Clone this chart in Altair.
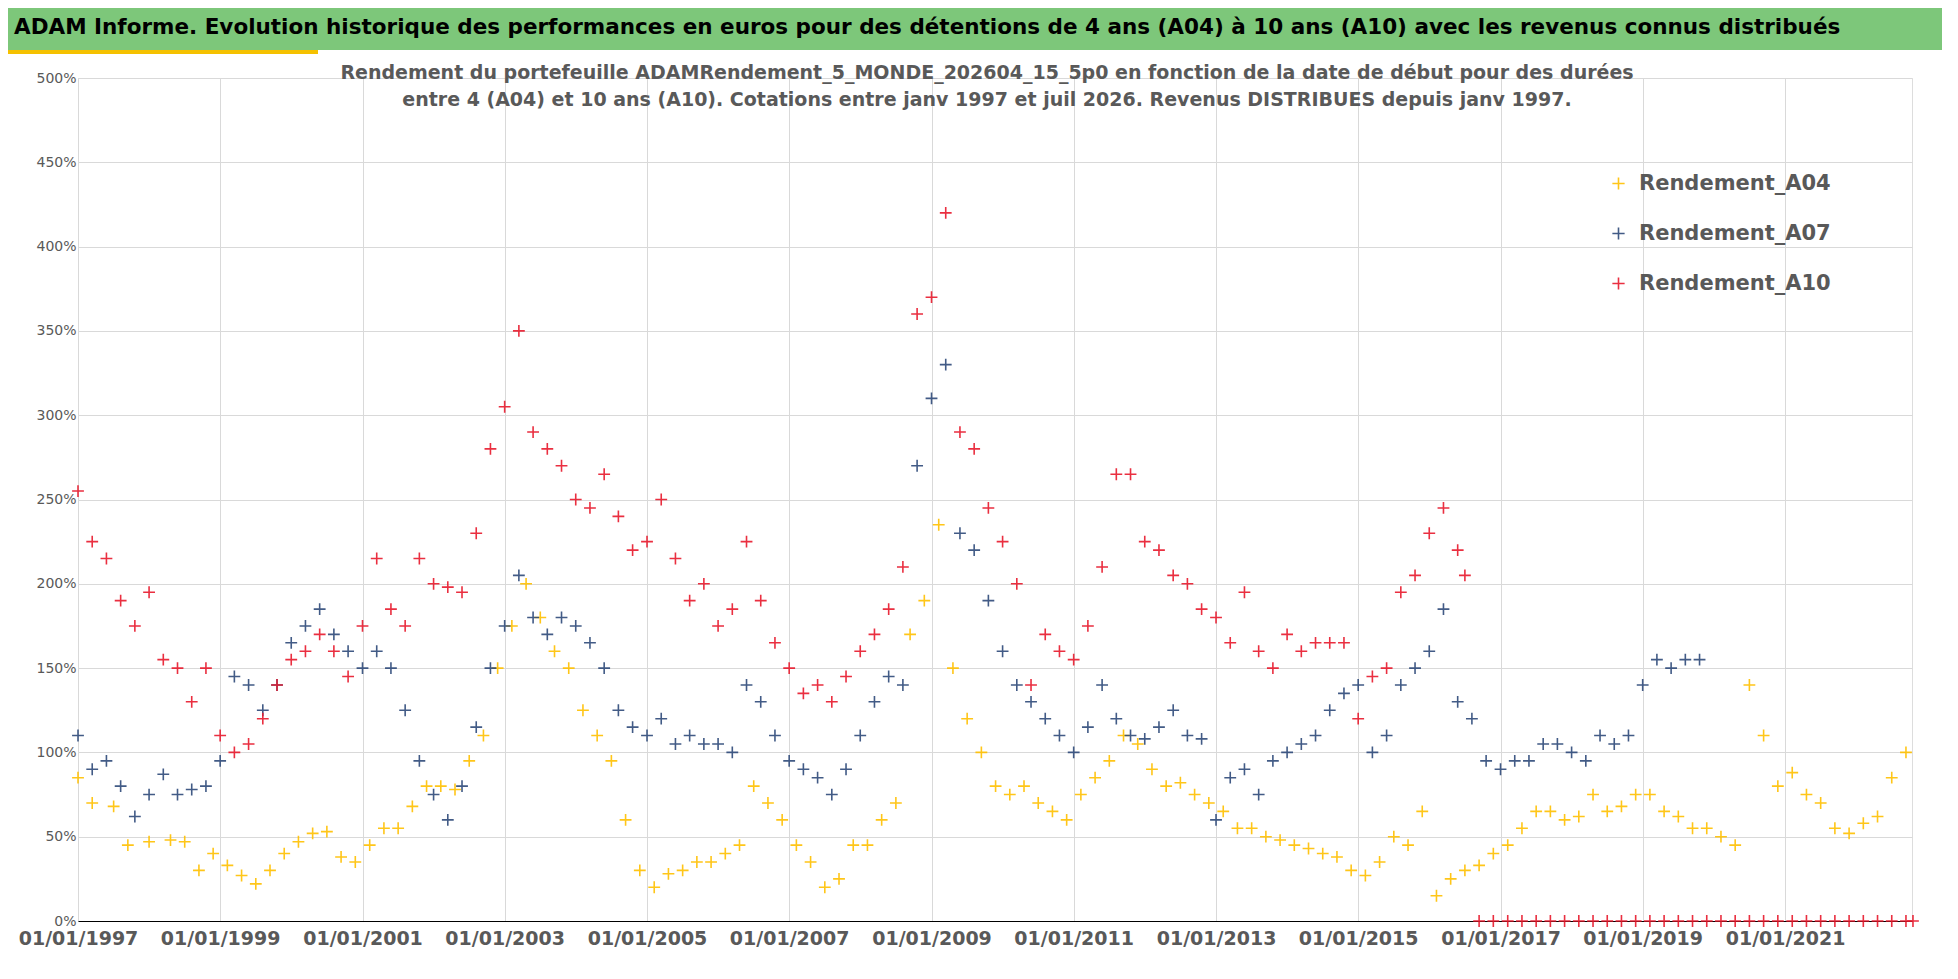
import altair as alt
import pandas as pd

# decimal year of start date, yield in percent
a04_years = [1997.0, 1997.2, 1997.5, 1997.7, 1998.0, 1998.3, 1998.5, 1998.7, 1998.9, 1999.1, 1999.3, 1999.5,
             1999.7, 1999.9, 2000.1, 2000.3, 2000.5, 2000.7, 2000.9, 2001.1, 2001.3, 2001.5, 2001.7, 2001.9,
             2002.1, 2002.3, 2002.5, 2002.7, 2002.9, 2003.1, 2003.3, 2003.5, 2003.7, 2003.9, 2004.1, 2004.3,
             2004.5, 2004.7, 2004.9, 2005.1, 2005.3, 2005.5, 2005.7, 2005.9, 2006.1, 2006.3, 2006.5, 2006.7,
             2006.9, 2007.1, 2007.3, 2007.5, 2007.7, 2007.9, 2008.1, 2008.3, 2008.5, 2008.7, 2008.9, 2009.1,
             2009.3, 2009.5, 2009.7, 2009.9, 2010.1, 2010.3, 2010.5, 2010.7, 2010.9, 2011.1, 2011.3, 2011.5,
             2011.7, 2011.9, 2012.1, 2012.3, 2012.5, 2012.7, 2012.9, 2013.1, 2013.3, 2013.5, 2013.7, 2013.9,
             2014.1, 2014.3, 2014.5, 2014.7, 2014.9, 2015.1, 2015.3, 2015.5, 2015.7, 2015.9, 2016.1, 2016.3,
             2016.5, 2016.7, 2016.9, 2017.1, 2017.3, 2017.5, 2017.7, 2017.9, 2018.1, 2018.3, 2018.5, 2018.7,
             2018.9, 2019.1, 2019.3, 2019.5, 2019.7, 2019.9, 2020.1, 2020.3, 2020.5, 2020.7, 2020.9, 2021.1,
             2021.3, 2021.5, 2021.7, 2021.9, 2022.1, 2022.3, 2022.5, 2022.7]
a04_values = [85, 70, 68, 45, 47, 48, 47, 30, 40, 33, 27, 22,
              30, 40, 47, 52, 53, 38, 35, 45, 55, 55, 68, 80,
              80, 78, 95, 110, 150, 175, 200, 180, 160, 150, 125, 110,
              95, 60, 30, 20, 28, 30, 35, 35, 40, 45, 80, 70,
              60, 45, 35, 20, 25, 45, 45, 60, 70, 170, 190, 235,
              150, 120, 100, 80, 75, 80, 70, 65, 60, 75, 85, 95,
              110, 105, 90, 80, 82, 75, 70, 65, 55, 55, 50, 48,
              45, 43, 40, 38, 30, 27, 35, 50, 45, 65, 15, 25,
              30, 33, 40, 45, 55, 65, 65, 60, 62, 75, 65, 68,
              75, 75, 65, 62, 55, 55, 50, 45, 140, 110, 80, 88,
              75, 70, 55, 52, 58, 62, 85, 100]

a07_years = [1997.0, 1997.2, 1997.4, 1997.6, 1997.8, 1998.0, 1998.2, 1998.4, 1998.6, 1998.8, 1999.0, 1999.2,
             1999.4, 1999.6, 1999.8, 2000.0, 2000.2, 2000.4, 2000.6, 2000.8, 2001.0, 2001.2, 2001.4, 2001.6,
             2001.8, 2002.0, 2002.2, 2002.4, 2002.6, 2002.8, 2003.0, 2003.2, 2003.4, 2003.6, 2003.8, 2004.0,
             2004.2, 2004.4, 2004.6, 2004.8, 2005.0, 2005.2, 2005.4, 2005.6, 2005.8, 2006.0, 2006.2, 2006.4,
             2006.6, 2006.8, 2007.0, 2007.2, 2007.4, 2007.6, 2007.8, 2008.0, 2008.2, 2008.4, 2008.6, 2008.8,
             2009.0, 2009.2, 2009.4, 2009.6, 2009.8, 2010.0, 2010.2, 2010.4, 2010.6, 2010.8, 2011.0, 2011.2,
             2011.4, 2011.6, 2011.8, 2012.0, 2012.2, 2012.4, 2012.6, 2012.8, 2013.0, 2013.2, 2013.4, 2013.6,
             2013.8, 2014.0, 2014.2, 2014.4, 2014.6, 2014.8, 2015.0, 2015.2, 2015.4, 2015.6, 2015.8, 2016.0,
             2016.2, 2016.4, 2016.6, 2016.8, 2017.0, 2017.2, 2017.4, 2017.6, 2017.8, 2018.0, 2018.2, 2018.4,
             2018.6, 2018.8, 2019.0, 2019.2, 2019.4, 2019.6, 2019.8]
a07_values = [110, 90, 95, 80, 62, 75, 87, 75, 78, 80, 95, 145,
              140, 125, 140, 165, 175, 185, 170, 160, 150, 160, 150, 125,
              95, 75, 60, 80, 115, 150, 175, 205, 180, 170, 180, 175,
              165, 150, 125, 115, 110, 120, 105, 110, 105, 105, 100, 140,
              130, 110, 95, 90, 85, 75, 90, 110, 130, 145, 140, 270,
              310, 330, 230, 220, 190, 160, 140, 130, 120, 110, 100, 115,
              140, 120, 110, 108, 115, 125, 110, 108, 60, 85, 90, 75,
              95, 100, 105, 110, 125, 135, 140, 100, 110, 140, 150, 160,
              185, 130, 120, 95, 90, 95, 95, 105, 105, 100, 95, 110,
              105, 110, 140, 155, 150, 155, 155]

a10_years = [1997.0, 1997.2, 1997.4, 1997.6, 1997.8, 1998.0, 1998.2, 1998.4, 1998.6, 1998.8, 1999.0, 1999.2,
             1999.4, 1999.6, 1999.8, 2000.0, 2000.2, 2000.4, 2000.6, 2000.8, 2001.0, 2001.2, 2001.4, 2001.6,
             2001.8, 2002.0, 2002.2, 2002.4, 2002.6, 2002.8, 2003.0, 2003.2, 2003.4, 2003.6, 2003.8, 2004.0,
             2004.2, 2004.4, 2004.6, 2004.8, 2005.0, 2005.2, 2005.4, 2005.6, 2005.8, 2006.0, 2006.2, 2006.4,
             2006.6, 2006.8, 2007.0, 2007.2, 2007.4, 2007.6, 2007.8, 2008.0, 2008.2, 2008.4, 2008.6, 2008.8,
             2009.0, 2009.2, 2009.4, 2009.6, 2009.8, 2010.0, 2010.2, 2010.4, 2010.6, 2010.8, 2011.0, 2011.2,
             2011.4, 2011.6, 2011.8, 2012.0, 2012.2, 2012.4, 2012.6, 2012.8, 2013.0, 2013.2, 2013.4, 2013.6,
             2013.8, 2014.0, 2014.2, 2014.4, 2014.6, 2014.8, 2015.0, 2015.2, 2015.4, 2015.6, 2015.8, 2016.0,
             2016.2, 2016.4, 2016.5,
             2016.7, 2016.9, 2017.1, 2017.3, 2017.5, 2017.7, 2017.9, 2018.1, 2018.3, 2018.5, 2018.7, 2018.9,
             2019.1, 2019.3, 2019.5, 2019.7, 2019.9, 2020.1, 2020.3, 2020.5, 2020.7, 2020.9, 2021.1, 2021.3,
             2021.5, 2021.7, 2021.9, 2022.1, 2022.3, 2022.5, 2022.7, 2022.8]
a10_values = [255, 225, 215, 190, 175, 195, 155, 150, 130, 150, 110, 100,
              105, 120, 140, 155, 160, 170, 160, 145, 175, 215, 185, 175,
              215, 200, 198, 195, 230, 280, 305, 350, 290, 280, 270, 250,
              245, 265, 240, 220, 225, 250, 215, 190, 200, 175, 185, 225,
              190, 165, 150, 135, 140, 130, 145, 160, 170, 185, 210, 360,
              370, 420, 290, 280, 245, 225, 200, 140, 170, 160, 155, 175,
              210, 265, 265, 225, 220, 205, 200, 185, 180, 165, 195, 160,
              150, 170, 160, 165, 165, 165, 120, 145, 150, 195, 205, 230,
              245, 220, 205,
              0, 0, 0, 0, 0, 0, 0, 0, 0, 0, 0, 0,
              0, 0, 0, 0, 0, 0, 0, 0, 0, 0, 0, 0,
              0, 0, 0, 0, 0, 0, 0, 0]

SERIES = ["Rendement_A04", "Rendement_A07", "Rendement_A10"]
COLORS = ["#FFC000", "#2E4A7A", "#E8192C"]
W, H = 1834, 843
PLUS = "M-1,0L1,0M0,-1L0,1"
FONT = "DejaVu Sans"


def to_date(y):
    yr = int(y)
    return pd.Timestamp(yr, 1, 1) + pd.Timedelta(days=round((y - yr) * 365.25))


rows = []
for name, years, vals in [(SERIES[0], a04_years, a04_values),
                          (SERIES[1], a07_years, a07_values),
                          (SERIES[2], a10_years, a10_values)]:
    for y, v in zip(years, vals):
        rows.append({"date": to_date(y), "value": v / 100, "serie": name})
df = pd.DataFrame(rows)

points = alt.Chart(df).mark_point(shape=PLUS, filled=False, size=140, strokeWidth=1.6, opacity=0.9).encode(
    x=alt.X("date:T", title=None,
            scale=alt.Scale(domain=["1997-01-01", "2022-10-15"]),
            axis=alt.Axis(values=[f"{y}-01-01" for y in range(1997, 2022, 2)], format="%d/%m/%Y",
                          labelFontSize=19, labelFontWeight="bold", labelColor="#595959",
                          labelOverlap=False, labelFlush=False, domainColor="#000000", ticks=False,
                          gridColor="#D9D9D9", labelPadding=8)),
    y=alt.Y("value:Q", title=None,
            scale=alt.Scale(domain=[0, 5]),
            axis=alt.Axis(values=[i / 2 for i in range(11)], format=".0%", labelFontSize=14,
                          labelColor="#595959", domain=False, ticks=False, gridColor="#D9D9D9")),
    color=alt.Color("serie:N", title=None, scale=alt.Scale(domain=SERIES, range=COLORS),
                    legend=alt.Legend(orient="none", legendX=1530, legendY=95, symbolType=PLUS,
                                      symbolSize=150, symbolStrokeWidth=1.6, labelFontSize=21,
                                      labelFontWeight="bold", labelColor="#595959", rowPadding=28,
                                      labelOffset=10, labelFont=FONT, labelLimit=0)),
)

banner = alt.Chart(pd.DataFrame({"t": [0]})).mark_rect(color="#7DC77A").encode(
    x=alt.value(-70), x2=alt.value(W + 30), y=alt.value(-70), y2=alt.value(-28))
stripe = alt.Chart(pd.DataFrame({"t": [0]})).mark_rect(color="#F5C100").encode(
    x=alt.value(-70), x2=alt.value(240), y=alt.value(-28), y2=alt.value(-24))
title = alt.Chart(pd.DataFrame({"t": [
    "ADAM Informe. Evolution historique des performances en euros pour des détentions de 4 ans (A04) à 10 ans (A10) avec les revenus connus distribués"
]})).mark_text(fontSize=21.5, fontWeight="bold", color="#000000", align="left", baseline="middle").encode(
    x=alt.value(-64), y=alt.value(-50), text="t:N")
subtitle = alt.Chart(pd.DataFrame({"t": [0]})).mark_text(
    fontSize=19, fontWeight="bold", color="#595959", align="center", baseline="top", lineHeight=27,
    lineBreak="\n",
    text="Rendement du portefeuille ADAMRendement_5_MONDE_202604_15_5p0  en fonction de la date de début pour des durées\nentre 4 (A04) et 10 ans (A10). Cotations entre janv 1997 et juil 2026. Revenus DISTRIBUES depuis janv 1997.",
).encode(x=alt.value(W / 2 - 8), y=alt.value(-14))

chart = alt.layer(banner, stripe, title, subtitle, points).properties(
    width=W, height=H, autosize=alt.AutoSizeParams(type="none"),
    padding={"left": 70, "top": 70, "right": 30, "bottom": 50},
).configure_view(stroke=None).configure(font=FONT)

chart.save("out.html", embed_options={"renderer": "svg", "actions": False})
